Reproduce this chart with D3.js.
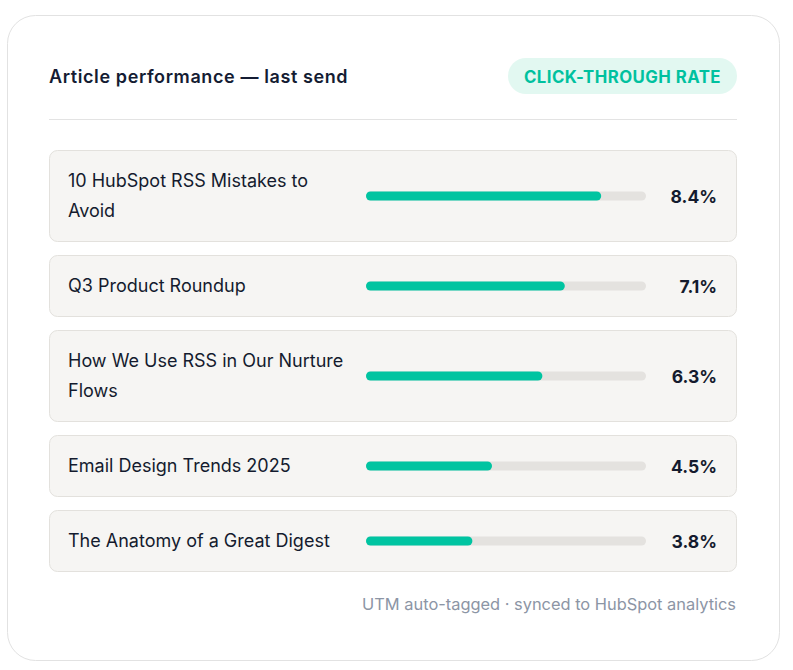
<!DOCTYPE html>
<html>
<head>
<meta charset="utf-8">
<script src="https://cdn.jsdelivr.net/npm/d3@7/dist/d3.min.js"></script>
<style>
  html, body { margin: 0; padding: 0; background: #ffffff; }
  svg { display: block; }
</style>
</head>
<body>
<svg id="chart" width="793" height="670"></svg>
<script>
const titleText = "Article performance \u2014 last send";
const pillText = "CLICK-THROUGH RATE";
const footerText = "UTM auto-tagged \u00b7 synced to HubSpot analytics";
const articles = [
  "10 HubSpot RSS Mistakes to Avoid",
  "Q3 Product Roundup",
  "How We Use RSS in Our Nurture Flows",
  "Email Design Trends 2025",
  "The Anatomy of a Great Digest"
];
const ctrValues = [8.4, 7.1, 6.3, 4.5, 3.8];
const ctrDomain = [0, 10];

const svg = d3.select("#chart");
const labelFont = "Inter, 'Noto Sans', sans-serif";
const headFont = "Inter, 'Noto Sans', sans-serif";

// card
svg.append("rect")
  .attr("x", 7.5).attr("y", 15.5).attr("width", 772).attr("height", 645)
  .attr("rx", 28).attr("fill", "#ffffff").attr("stroke", "#e2e2e2").attr("stroke-width", 1);

// title
svg.append("text")
  .attr("x", 49).attr("y", 76).attr("dominant-baseline", "central")
  .attr("font-family", headFont).attr("font-size", 18).attr("font-weight", 600)
  .attr("letter-spacing", 0.6)
  .attr("fill", "#141c33").text(titleText);

// pill
svg.append("rect")
  .attr("x", 508).attr("y", 58).attr("width", 229).attr("height", 36).attr("rx", 18)
  .attr("fill", "#e2f8f1");
svg.append("text")
  .attr("x", 622.5).attr("y", 76.5).attr("text-anchor", "middle").attr("dominant-baseline", "central")
  .attr("font-family", headFont).attr("font-size", 16.8).attr("font-weight", 700)
  .attr("letter-spacing", 0.45)
  .attr("fill", "#00c19f").text(pillText);

// divider
svg.append("line")
  .attr("x1", 49).attr("x2", 737).attr("y1", 119.5).attr("y2", 119.5)
  .attr("stroke", "#e3e3e3").attr("stroke-width", 1);

const x = d3.scaleLinear().domain(ctrDomain).range([366, 646]);

const maxLabelWidth = 284;
const lineH = 30, padV = 16, gap = 13;
const labelSize = 18;

// measure + wrap
const measurer = svg.append("text")
  .attr("font-family", labelFont).attr("font-size", labelSize).attr("visibility", "hidden");
function wrap(str) {
  const words = str.split(" ");
  const lines = [];
  let cur = "";
  words.forEach(w => {
    const test = cur ? cur + " " + w : w;
    measurer.text(test);
    if (measurer.node().getComputedTextLength() > maxLabelWidth && cur) {
      lines.push(cur); cur = w;
    } else cur = test;
  });
  if (cur) lines.push(cur);
  return lines;
}

let yCursor = 150;
const rows = articles.map((a, i) => {
  const lines = wrap(a);
  const h = lines.length * lineH + padV * 2;
  const r = { label: a, value: ctrValues[i], lines, y: yCursor, h };
  yCursor += h + gap;
  return r;
});
measurer.remove();

const g = svg.selectAll("g.row").data(rows).join("g").attr("class", "row");

g.append("rect")
  .attr("x", 49.5).attr("y", d => d.y + 0.5).attr("width", 687).attr("height", d => d.h - 1)
  .attr("rx", 8).attr("fill", "#f6f5f3").attr("stroke", "#e3e1dd");

g.each(function(d) {
  const t = d3.select(this).append("text")
    .attr("font-family", labelFont).attr("font-size", labelSize).attr("fill", "#141b2e");
  d.lines.forEach((ln, j) => {
    t.append("tspan").attr("x", 68).attr("y", d.y + padV + lineH / 2 + j * lineH - 0.5)
      .attr("dominant-baseline", "central").text(ln);
  });
});

const barH = 9;
g.append("rect")
  .attr("x", x(ctrDomain[0])).attr("y", d => d.y + d.h / 2 - barH / 2)
  .attr("width", x(ctrDomain[1]) - x(ctrDomain[0])).attr("height", barH)
  .attr("rx", barH / 2).attr("fill", "#e4e2df");

g.append("rect")
  .attr("x", x(0)).attr("y", d => d.y + d.h / 2 - barH / 2)
  .attr("width", d => x(d.value) - x(0)).attr("height", barH)
  .attr("rx", barH / 2).attr("fill", "#00c4a1");

g.append("text")
  .attr("x", 717).attr("y", d => d.y + d.h / 2)
  .attr("text-anchor", "end").attr("dominant-baseline", "central")
  .attr("font-family", headFont).attr("font-size", 17.5).attr("font-weight", 700)
  .attr("fill", "#141b2e").text(d => d.value.toFixed(1) + "%");

// footer
svg.append("text")
  .attr("x", 736).attr("y", 604).attr("text-anchor", "end").attr("dominant-baseline", "central")
  .attr("font-family", labelFont).attr("font-size", 16.4).attr("fill", "#8c95a5")
  .text(footerText);
</script>
</body>
</html>
